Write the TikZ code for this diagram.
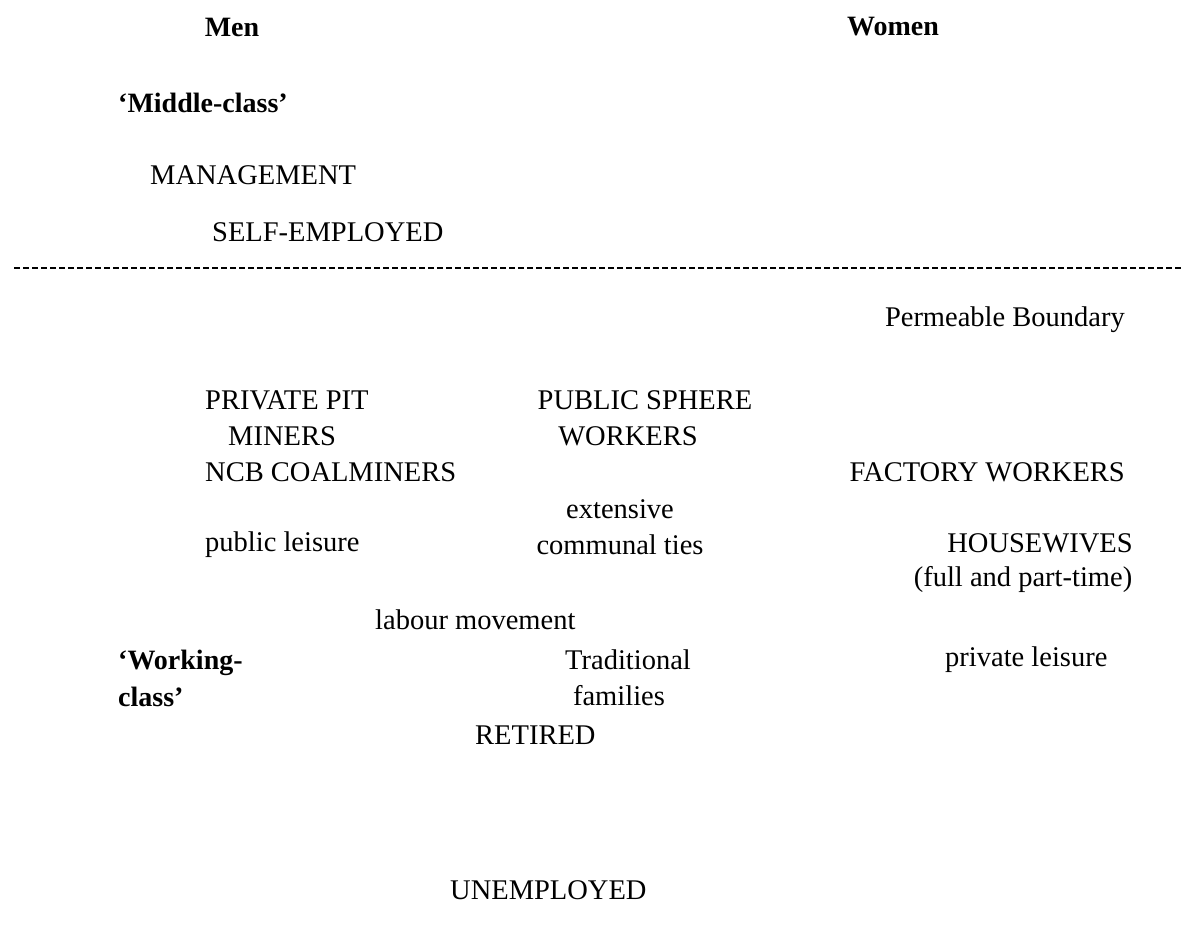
\documentclass[tikz,border=0pt]{standalone}
\usepackage{fontspec}
\setmainfont{Liberation Serif}
\tikzset{
  lbl/.style={inner sep=0pt, font=\fontsize{28.5}{36}\selectfont},
  head/.style={lbl, font=\fontsize{28}{37}\selectfont\bfseries},
}

\begin{document}
\begin{tikzpicture}[x=1pt, y=-1pt]
\useasboundingbox (0,0) rectangle (1187,931);
\node (men)   at (232, 27) [head] {Men};
\node (women) at (893, 27) [head] {Women};
\node (midclass) at (118,103) [head, anchor=west] {`Middle-class'};
\node (management) at (150,175) [lbl, anchor=west] {MANAGEMENT};
\node (selfemp)    at (212,232) [lbl, anchor=west] {SELF-EMPLOYED};
\coordinate (dl) at (14,268);
\coordinate (dr) at (1183,268);
\draw [line width=1.4pt, dash pattern=on 6pt off 3pt] (dl) -- (dr);
\node (boundary) at (1125,320) [lbl, anchor=east] {Permeable Boundary};
\node (privpit)  at (205,400) [lbl, anchor=west] {PRIVATE PIT};
\node (miners)   at (228,436) [lbl, anchor=west] {MINERS};
\node (ncb)      at (205,472) [lbl, anchor=west] {NCB COALMINERS};
\node (public)   at (645,400) [lbl] {PUBLIC SPHERE};
\node (workers)  at (628,436) [lbl] {WORKERS};
\node (factory)  at (1125,472) [lbl, anchor=east] {FACTORY WORKERS};
\node (extensive) at (620,527) [lbl, align=center] {extensive\\communal ties};
\node (publeisure) at (205,545) [lbl, anchor=west] {public leisure};
\node (housewives) at (1040,543) [lbl] {HOUSEWIVES};
\node (fullpart)   at (1023,579) [lbl] {(full and part-time)};
\node (labour)   at (375,620) [lbl, anchor=west] {labour movement};
\node (workclass) at (118,678) [head, anchor=west, align=left] {`Working-\\class'};
\node (traditional) at (628,660) [lbl] {Traditional};
\node (families)    at (619,696) [lbl] {families};
\node (privleisure) at (945,660) [lbl, anchor=west] {private leisure};
\node (retired)  at (475,735) [lbl, anchor=west] {RETIRED};
\node (unemployed) at (450,890) [lbl, anchor=west] {UNEMPLOYED};
\end{tikzpicture}
\end{document}
